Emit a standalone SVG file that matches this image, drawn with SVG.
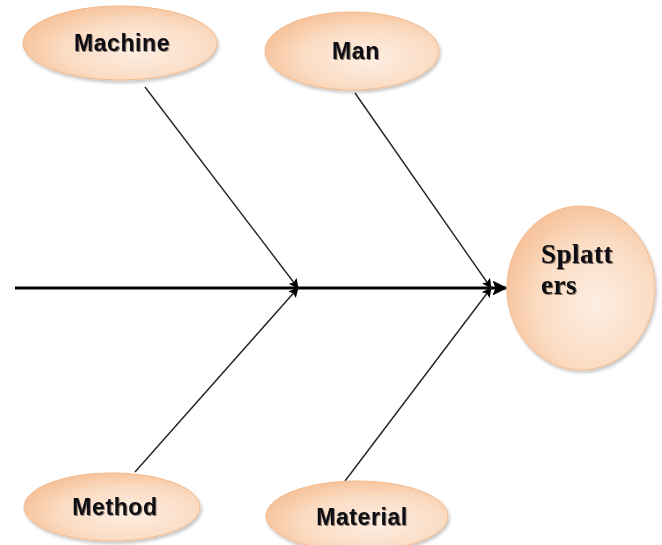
<svg xmlns="http://www.w3.org/2000/svg" width="662" height="545" viewBox="0 0 662 545">
<defs>
<radialGradient id="peach" cx="0.6" cy="0.6" r="0.65">
<stop offset="0" stop-color="#FDEEE3"/>
<stop offset="0.6" stop-color="#FBDCC3"/>
<stop offset="1" stop-color="#F6C198"/>
</radialGradient>
<filter id="sh" x="-20%" y="-20%" width="140%" height="150%">
<feDropShadow dx="1.5" dy="2.5" stdDeviation="1.5" flood-color="#000" flood-opacity="0.22"/>
</filter>
<filter id="tsh" x="-10%" y="-20%" width="120%" height="140%">
<feDropShadow dx="1" dy="1" stdDeviation="0.6" flood-color="#3a2a1a" flood-opacity="0.6"/>
</filter>
<marker id="ah" viewBox="0 0 10 10" refX="9" refY="5" markerWidth="10" markerHeight="10" markerUnits="userSpaceOnUse" orient="auto">
<path d="M0,0 L10,5 L0,10 L2,5 Z" fill="#000"/>
</marker>
<marker id="ahm" viewBox="0 0 10 10" refX="9" refY="5" markerWidth="5" markerHeight="5" markerUnits="strokeWidth" orient="auto">
<path d="M0,0 L10,5 L0,10 L2,5 Z" fill="#000"/>
</marker>
</defs>
<style>
.node ellipse{fill:url(#peach);stroke:#F3B98A;stroke-width:1;filter:url(#sh)}
.lbl{font-family:"Liberation Sans",Arial,sans-serif;font-weight:bold;font-size:23px;letter-spacing:0.6px;fill:#0b0b12;text-anchor:middle;filter:url(#tsh)}
.slbl{font-family:"Liberation Serif","Times New Roman",serif;font-weight:bold;font-size:27px;letter-spacing:0.5px;fill:#0b0b12;filter:url(#tsh)}
.bone{stroke:#222;stroke-width:1.4;fill:none;marker-end:url(#ah)}
.spine{stroke:#000;stroke-width:3;fill:none;marker-end:url(#ahm)}
</style>
<rect width="662" height="545" fill="#fff"/>
<g id="connectors">
<line class="spine" x1="15" y1="288" x2="506" y2="288"/>
<line class="bone" x1="145" y1="87" x2="298" y2="288"/>
<line class="bone" x1="135" y1="472" x2="298" y2="288"/>
<line class="bone" x1="355" y1="93" x2="491" y2="288"/>
<line class="bone" x1="345" y1="481" x2="491" y2="288"/>
</g>
<g id="machine" class="node">
<ellipse cx="120" cy="43" rx="97" ry="37"/>
<text class="lbl" x="122" y="51">Machine</text>
</g>
<g id="man" class="node">
<ellipse cx="352" cy="51" rx="87" ry="39"/>
<text class="lbl" x="356" y="59">Man</text>
</g>
<g id="splatters" class="node">
<ellipse cx="581" cy="288" rx="74" ry="82"/>
<text class="slbl" x="541" y="263">Splatt</text>
<text class="slbl" x="541" y="294">ers</text>
</g>
<g id="method" class="node">
<ellipse cx="112" cy="507" rx="88" ry="34"/>
<text class="lbl" x="115" y="515">Method</text>
</g>
<g id="material" class="node">
<ellipse cx="357" cy="516" rx="91" ry="35"/>
<text class="lbl" x="362" y="525">Material</text>
</g>
</svg>
